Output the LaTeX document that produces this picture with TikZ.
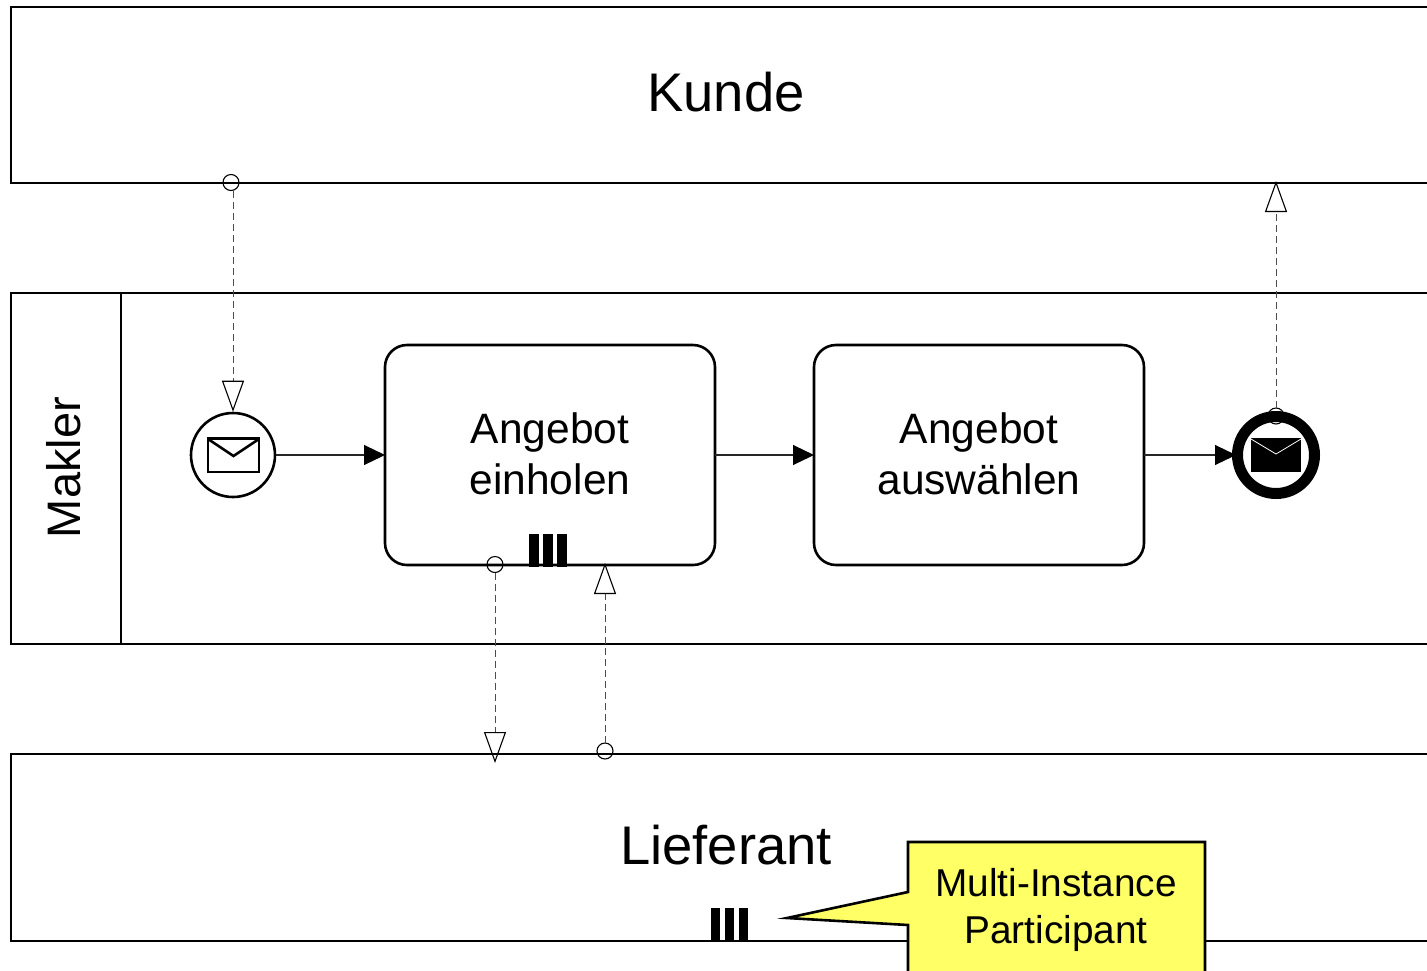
\documentclass[tikz,border=0pt]{standalone}
\usepackage{fontspec}
\setmainfont{Liberation Sans}
\usetikzlibrary{arrows.meta,calc}
\definecolor{noteyellow}{HTML}{FFFF66}
\tikzset{
  x=1pt,y=-1pt,
  pool/.style={draw=black,line width=2.8pt,rectangle,minimum width=1430pt,inner sep=0pt,outer sep=0pt,font=\fontsize{54.4}{60}\selectfont},
  task/.style={draw=black,line width=2.6pt,rectangle,rounded corners=22pt,minimum width=330pt,minimum height=220pt,inner sep=0pt,outer sep=0pt,align=center,font=\fontsize{42.5}{51}\selectfont},
  startevent/.style={draw=black,line width=2.6pt,circle,minimum size=84pt,inner sep=0pt,fill=white},
  endevent/.style={draw=black,line width=11pt,circle,minimum size=77pt,inner sep=0pt,fill=white},
  portcircle/.style={draw=black,line width=1.1pt,circle,minimum size=16pt,inner sep=0pt,outer sep=0pt},
  seqflow/.style={draw=black!85,line width=1.1pt,-{Triangle[length=21pt,width=20pt,color=black,fill=black]}},
  msgflow/.style={draw=black!70,line width=1pt,dash pattern=on 7pt off 4pt,-{Triangle[open,length=31pt,width=22pt,color=black,line width=1.1pt]}},
  bar/.style={fill=black,draw=none},
  notetext/.style={inner sep=0pt,align=center,font=\fontsize{38.8}{47}\selectfont},
}
\begin{document}
\begin{tikzpicture}
\useasboundingbox (0,0) rectangle (1427,970);
\clip (0,0) rectangle (1427,970);
% pools
\node[pool,minimum height=176pt] (kunde) at (726,95) {\raisebox{6pt}{Kunde}};
\node[pool,minimum height=351pt] (makler) at (726,468.5) {};
\node[pool,minimum height=187pt] (lieferant) at (726,847.5) {\raisebox{6pt}{Lieferant}};
\draw[line width=2.8pt] (121,293) -- (121,644);
\node[rotate=90,inner sep=0pt,font=\fontsize{47}{50}\selectfont] (maklerlabel) at (63.5,467.5) {Makler};
% message port circles
\node[portcircle] (kundeport) at (231,182.5) {};
\node[portcircle] (offerport) at (495,564.5) {};
\node[portcircle] (lieferport) at (605,751) {};
% tasks
\node[task] (task1) at (550,455) {\raisebox{2pt}{Angebot}\\\raisebox{2pt}{einholen}};
\node[task] (task2) at (979,455) {\raisebox{2pt}{Angebot}\\\raisebox{2pt}{auswählen}};
% events
\node[startevent] (start) at (233,455) {};
\node[endevent] (end) at (1276,455) {};
\node[portcircle] (endport) at (1276,416) {};
% envelopes
\draw[line width=2.6pt,line join=miter] (208,438.5) rectangle (259,472);
\draw[line width=2.6pt] (208,439) -- (233.5,456) -- (259,439);
\fill[black] (1251,438) rectangle (1301,472);
\draw[white,line width=.8pt] (1251,439) -- (1276,454) -- (1301,439);
% multi-instance bars
\fill[bar] (529,534) rectangle (538.5,567);
\fill[bar] (543,534) rectangle (552.5,567);
\fill[bar] (557,534) rectangle (566.5,567);
\fill[bar] (711,908) rectangle (720,941);
\fill[bar] (725,908) rectangle (733.5,941);
\fill[bar] (739,908) rectangle (747.5,941);
% sequence flows
\draw[seqflow] (start.east) -- (task1.west);
\draw[seqflow] (task1.east) -- (task2.west);
\draw[seqflow,shorten >=-4pt] (task2.east) -- (end.west);
% message flows
\draw[msgflow] (233,191) -- (start.north);
\draw[msgflow,shorten >=-2pt] (endport.north) -- (kunde.south -| endport.north);
\draw[msgflow] (offerport.south) -- (495,763);
\draw[msgflow] (lieferport.north) -- (605,563);
% annotation
\draw[line width=2.6pt,fill=noteyellow,line join=miter] (908,842) -- (1205,842) -- (1205,985) -- (908,985) -- (908,925) -- (787,918) -- (908,892) -- cycle;
\node[notetext] (note) at (1056,910) {Multi-Instance\\Participant};
\end{tikzpicture}
\end{document}
